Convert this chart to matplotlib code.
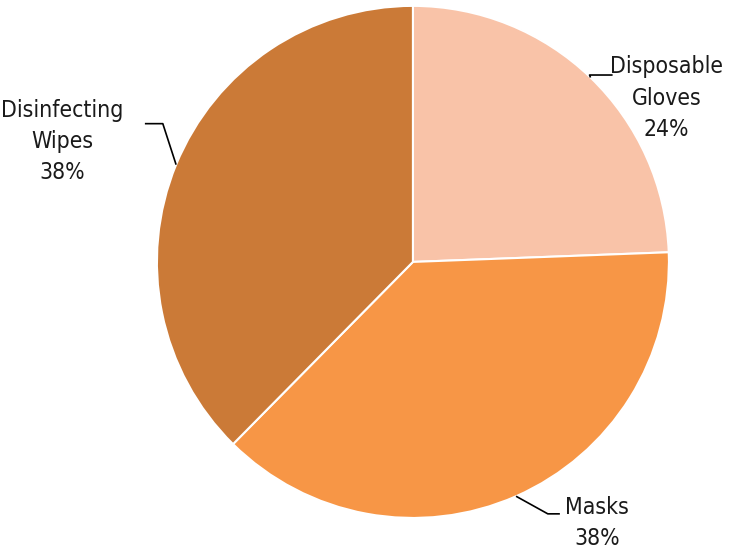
import matplotlib.pyplot as plt
import numpy as np

plt.rcParams['font.family'] = ['DejaVu Sans']

# data
items = ["Disposable\nGloves", "Masks", "Disinfecting\nWipes"]
shares = [24.4, 38.0, 37.6]
colores = ["#F9C3A8", "#F79646", "#CB7A37"]

# label boxes (center of text, bend of leader, end of leader) in pie units
pos_texto = [(0.99, 0.64), (0.72, -1.02), (-1.37, 0.47)]
codo = [(0.69, 0.73), (0.527, -0.984), (-0.977, 0.54)]
fin = [(0.78, 0.73), (0.574, -0.984), (-1.047, 0.54)]

fig = plt.figure(figsize=(7.37, 5.52), dpi=100)
ax = fig.add_axes([0, 0, 1, 1])

wedges, _ = ax.pie(shares, colors=colores, startangle=90, counterclock=False,
                   radius=1.0, wedgeprops=dict(edgecolor="white", linewidth=1.5))

total = sum(shares)
for w, nombre, v, t, c, f in zip(wedges, items, shares, pos_texto, codo, fin):
    ang = np.deg2rad((w.theta1 + w.theta2) / 2)
    x0, y0 = np.cos(ang) * 1.0, np.sin(ang) * 1.0
    xs = [x0, c[0], f[0]]
    ys = [y0, c[1], f[1]]
    ax.plot(xs, ys, color="black", lw=1.2, solid_capstyle="butt")
    ax.text(t[0], t[1], f"{nombre}\n{round(100 * v / total)}%", ha="center",
            va="center", fontsize=16.5, fontstretch="condensed",
            linespacing=1.45, color="#1a1a1a")

ax.set_xlim(-1.613, 1.266)
ax.set_ylim(-1.133, 1.023)
ax.set_aspect("auto")
ax.axis("off")

fig.savefig("out.png", dpi=100)
